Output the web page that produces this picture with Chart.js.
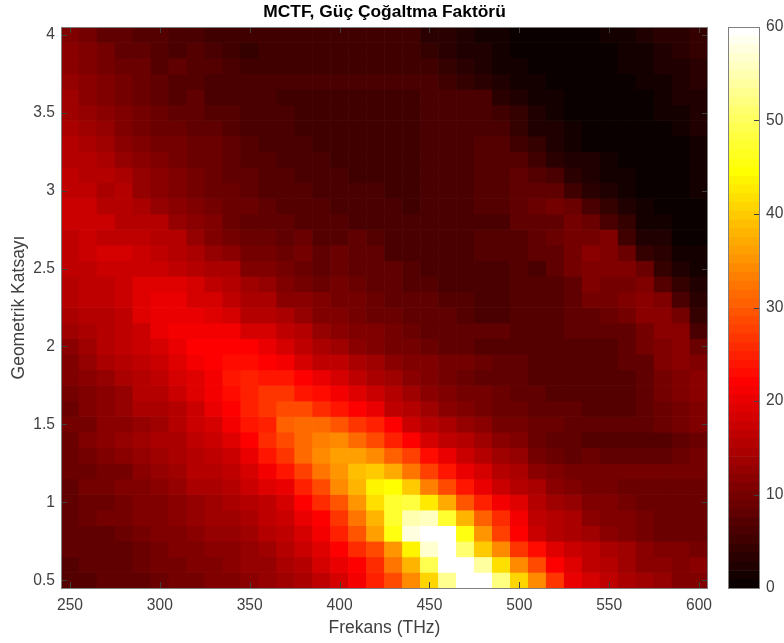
<!DOCTYPE html>
<html>
<head>
<meta charset="utf-8">
<script src="https://cdn.jsdelivr.net/npm/chart.js@4"></script>
<style>
html, body { margin: 0; padding: 0; background: #fff; overflow: hidden; }
canvas { position: absolute; top: 0; }
#heat { left: 0; }
#bar { left: 720px; }
</style>
</head>
<body>
<canvas id="heat" width="784" height="643"></canvas>
<canvas id="bar" width="64" height="643"></canvas>
<script>
let freqs = [250,260,270,280,290,300,310,320,330,340,350,360,370,380,390,400,410,420,430,440,450,460,470,480,490,500,510,520,530,540,550,560,570,580,590,600];
let geoms = [4,3.9,3.8,3.7,3.6,3.5,3.4,3.3,3.2,3.1,3,2.9,2.8,2.7,2.6,2.5,2.4,2.3,2.2,2.1,2,1.9,1.8,1.7,1.6,1.5,1.4,1.3,1.2,1.1,1,0.9,0.8,0.7,0.6,0.5];
let xTicks = [250,300,350,400,450,500,550,600];
let yTicks = [0.5,1,1.5,2,2.5,3,3.5,4];
let barTicks = [0,10,20,30,40,50,60];

// one array per geometric coefficient, top of the picture first
let g40 = [10.6,9.7,8.3,8.3,7,7,6.1,6.1,5.3,5.3,4.8, 5.6,5.6,5.6,5.6,5.6,5.6,5.6,5.6,4.9, 3.2,3.2,2.5,1.4,1,0.5, 0.9,0.9,0.9,0.9,1.5,1.5,2.4,3.2,2.9,4];
let g39 = [11.4,10.6,9.7,8.3,7.5,7.3,6.4,6.6,6.1,4.8,4.6, 5.6,5.6,5.6,5.6,5.6,5.6,5.6,5.6,5.6, 4.6,3.2,2.8,2.3,1.3,0.6, 0.5,0.5,0.5,0.5,0.6,1.5,1.5,2.4,2.9,4];
let g38 = [11.7,10.8,9.7,9,8.5,7,7.6,6.6,6.8,5.9,4.8, 5.6,5.6,5.6,5.6,5.6,5.6,5.6,5.6,5.6, 5.6,3.8,3.2,2.3,1.3,1.5, 0.6,0.6,0.5,0.5,0.5,1.5,1.5,2,2.4,3.2];
let g37 = [12.3,11.4,10.6,9.4,8.8,7.9,7.3,7,6.4,6.1,5.9, 5.7,5.7,5.7,5.7,5.7,5.7,5.7,5.7,5.7, 5.8,5.6,4.6,3,2.3,1.5, 1.3,0.6,0.3,0.3,0.3,0.5,1.5,1.5,2.4,3.2];
let g36 = [13.2,11.9,11,10.1,9.2,8.3,7.3,7.5,6.4,6.1,5.9, 6,5.6,5.6,5.6,5.6,5.6,5.6,5.6,5.6, 6,6,5.9,5.9,3.7,2.4, 1.3,1.3,0.5,0.5,0.3,0.3,0.5,1.5,2.4,2.4];
let g35 = [13.6,12.3,11.4,10.6,9.9,8.8,8.3,8.2,7,6.6,6.4, 6,5.9,5.3,5.3,5.3,5.3,5.3,5.3,5.3, 6,6,6,6,5.2,3.8, 2.4,1.3,0.5,0.3,0.3,0.3,0.3,1.3,1.3,2.2];
let g34 = [14.5,13.2,12.3,11,10.1,9.2,8.8,8.3,7.9,7,6.1, 6.2,6,5.5,5.5,5.5,5.5,5.5,5.5,5.5, 6,6,6,6,6,4.2, 2.4,2.2,1.5,0.5,0.3,0.3,0.3,0.3,1.3,2.2];
let g33 = [15.4,14.5,13.2,11.4,11,10.1,9.7,8.8,8.8,7.9,7, 6,6,6,5.3,5.3,5.3,5.3,5.3,5.3, 6,6,6,6.8,6.8,5.6, 4,2.4,1.7,0.9,0.3,0.3,0.3,0.3,0.5,1.3];
let g32 = [15.4,15,14.5,12.8,11.4,10.6,9.9,9.2,8.8,8.3,7.3, 6.8,6.2,6.2,6,5.3,5.3,5.3,5.3,5.3, 6.2,6.2,6.2,7,7,7, 4.8,3.2,2.4,2.2,1.1,0.3,0.3,0.3,0.3,1.3];
let g31 = [16.3,15.8,15,14.5,12.3,11.4,10.6,9.7,9.2,8.3,7.9, 6.8,6.8,6.2,6.2,6,5.3,5.3,5.3,5.3, 6,6,6,6.6,7,8.2, 7,5.7,3,2.4,1.1,1.1,0.3,0.3,0.3,1.3];
let g30 = [16.7,16.3,14.5,15,12.8,11.9,11,9.7,9.2,8.8,8.3, 7,7,6.8,6.2,6.2,6,6,5.3,5.3, 6,6,6,6.6,6.8,7.5, 8.3,7.9,4.8,3,2.2,1.1,0.3,0.3,0.3,1.1];
let g29 = [17.6,17.2,15.8,15,14.1,12.8,11.9,11,10.1,8.8,8.8, 8.3,7,7,7,6.2,6.2,6,6,5.3, 6,6,6,6.6,6.6,7.5, 8.8,10.1,9.2,6.1,4.4,2.2,1.3,0.3,0.3,0.3];
let g28 = [17.6,17.2,17.2,15.8,15.8,15,12.8,11.9,10.6,9.2,8.3, 8.3,7.5,6.6,7,7,6.1,6,6,6, 6,6.1,6.1,6.1,6.1,7.5, 8.3,8.3,9.7,9.2,6.1,3.8,1.7,1.1,0.3,0.3];
let g27 = [16.7,17.2,16.7,16.3,16.3,15.4,15,12.3,11,10.1,8.8, 9.2,8.3,8.8,7,7,7.5,6.6,5.9,5.9, 5.9,6.1,6.1,6.6,6.6,7.3, 7.5,9.2,10.1,10.1,10.6,4.8,2.6,2,0.9,0.5];
let g26 = [16.7,17.2,18,18,17.6,16.3,15.4,14.5,12.8,11.4,9.7, 10.1,8.8,9.7,8.3,8.8,7.5,7.5,5.9,5.9, 5.9,6.1,6.1,6.6,6.6,7, 7.9,7.9,9.7,11.4,11,9.2,4.4,2.9,1.1,1.1];
let g25 = [16.3,16.7,17.6,17.6,17.2,17.6,16.3,15.8,14.5,14.1,11, 11,9.7,8.8,8.3,8.8,7.9,7.5,7.5,6.6, 6.1,6.1,6.4,6.4,6.4,6.6, 6.4,7.5,9.7,11,10.6,10.6,8.8,4,2.6,1.5];
let g24 = [15.4,16.3,16.7,17.6,19.4,19.4,19.4,18,16.3,15,13.2, 12.8,10.6,9.7,9.2,9.7,8.8,8.3,7.5,7, 7,6.4,6.4,6.4,6.4,6.6, 6.6,7.3,7.5,10.6,10.1,10.1,11,6.6,4.4,2.6];
let g23 = [15,16.3,16.7,17.6,18.9,20.3,19.8,18.5,18,16.3,14.1, 14.5,11.9,11.9,10.6,9.7,9.7,9.2,8.3,7.9, 7.5,7.1,6.6,6.4,6.4,6.6, 6.6,7,7.5,9.7,10.1,10.6,11.4,10.6,5.7,3.5];
let g22 = [14.5,15.8,15.8,16.7,18.9,19.8,19.8,19.8,19.4,18.5,15.8, 15.8,14.1,12.3,11,10.6,9.7,9.2,8.8,8.3, 7.5,7.5,7.1,6.4,6.4,6.6, 6.6,6.6,7.5,7.6,8.8,9.7,11.9,11.9,10.1,4.4];
let g21 = [13.2,14.5,15,16.7,17.6,19.8,20.7,20.7,20.7,20.7,18.5, 18.5,16.3,15,12.3,11.9,11,10.6,9.7,8.8, 7.9,7.9,7.5,7.5,7.5,6.6, 6.6,6.6,7.5,7.6,8.3,8.3,9.7,11.4,11.4,6.1];
let g20 = [11.4,13.2,15.4,16.3,17.2,18.5,19.8,22,22,22,22, 20.3,18.5,16.7,14.5,13.6,11.4,11,10.1,9.7, 8.8,8.3,7.9,7,7,7, 7,7,7,7.3,7.3,8.3,9.7,10.6,11.9,8.8];
let g19 = [11,12.8,14.1,15.4,16.7,17.6,18.9,20.7,22,23,23, 22,21.1,18.5,16.8,16,14.6,14,11.7,11, 10.6,10.1,9.7,9.2,8.3,7.5, 7,7,7,7.3,7.3,8.3,8.3,10.6,11.9,11];
let g18 = [10.6,11.9,12.8,14.5,15.8,16.3,18.5,19.4,21.1,24,25, 23.5,23.5,22,19.8,18.5,16.7,14.5,13.2,11.9, 11,10.1,9.2,8.3,8.3,8.3, 7,7,7,6.6,6.6,6.6,8.3,9.7,10.6,11.9];
let g17 = [10.1,11,11.4,12.8,15,15.8,17.2,18.9,21.1,23,25, 27,27,24,22.5,21.1,19.4,17.6,15.4,13.2, 11.9,10.6,9.7,9.7,9.2,8.3, 7.5,6.6,6.6,6.6,6.6,6.6,8.3,9.7,10.6,11.4];
let g16 = [9.2,10.6,11.9,12.8,14.1,14.5,15.8,17.6,19.8,21.6,25, 26.5,29,29,26,24,22,20.3,16.7,15.4, 14,11.9,11,10.1,8.8,9.2, 8.3,8.3,8.3,6.8,6.8,6.8,8.3,8.8,9.7,10.6];
let g15 = [10.1,10.1,11.4,11.9,12.8,13.6,15,17.2,18.5,20.7,24, 25,30,31,31,29.5,27,24.5,21.6,17.2, 15.4,14.1,12.8,11.4,9.7,10.1, 9.2,8.8,8.3,8.3,8.3,8.3,8.3,8.8,9.7,10.6];
let g14 = [9.2,10.6,11.9,12.3,13.2,14.1,14.5,16.3,17.2,19.4,21.6, 25.7,28.5,31.3,33.2,34,31,28.7,25,22, 18.5,16.7,15.4,13.2,11.7,10.8, 8.8,8.3,7.9,7,7,7,7,7,8.3,8.8];
let g13 = [9.2,9.7,10.6,11.4,12.3,13.2,14.1,15.4,16.3,17.6,19.8, 24.3,27.1,31.3,34,36,36,34.3,30.5,27.6, 23.4,20.5,17.5,15,13.6,12.2, 9.7,9.2,8.3,8.8,7.9,7.9,7.9,7.9,9.2,9.7];
let g12 = [9.2,9.2,10.1,10.1,11.4,12.8,13.2,15,15.4,16.7,18.5, 21.4,24.3,27.6,31.9,35.4,38.8,40,36.6,32.6, 27.6,24.1,20,17.9,15,14.1, 11.4,10.6,10.1,9.7,9.7,9.7,9.7,9.7,9.7,9.7];
let g11 = [8.3,9.7,10.1,10.6,11,11.9,12.8,14.1,14.5,15.8,17.6, 19,20.5,24.8,28.4,34,38.2,43.2,44.5,40, 33.3,29,24.1,20.5,17.5,15.8, 14.1,11.4,10.6,10.1,9.7,9,9,9,9,9];
let g10 = [8.3,9.2,9.2,10.1,10.6,11,11.9,12.8,13.6,14.5,15.6, 16.5,18.2,22,26.2,29.8,34.7,41.8,47.3,48.3, 42.5,36.8,29.8,24.8,20.7,19, 15.4,13.6,12.8,10.6,10.6,9.7,9,9,9,9];
let g09 = [7.9,8.8,9.7,9.7,10.6,10.6,11.4,12.3,13.2,13.8,14.9, 16,17.2,20,21.6,26.9,31.9,38.2,47.3,54.8, 55.8,47.8,37.5,30.5,25.5,20.7, 16.7,15,14.1,11.9,10.6,10.6,9.7,8.8,8.8,8.8];
let g08 = [7.5,7.9,7.9,9.2,9.7,10.6,10.6,11.4,12.3,12.9,13.9, 15,16.5,18.6,20.7,24.8,29.8,36.1,45.4,58.1, 60,60,45.4,34.7,27.6,22, 17.6,15.8,14.5,13.2,11.9,10.6,9.7,9.2,9.2,9.2];
let g07 = [7.5,7.9,8.3,8.3,9.2,9.7,10.6,11,11.5,12,12.8, 13.6,15,17.2,19,22,25.5,29,35.4,43.2, 56.7,60,51.1,39.6,34,27, 23,18.9,17.2,16,14.5,13.2,11.9,11,10.6,10.1];
let g06 = [6.6,7.9,8.3,8.3,9.2,9.7,10.1,10.6,11,11.5,12.2, 12.9,14.3,15.8,17.9,20,22,26.2,31.9,37.5, 49.2,60,60,53.9,41.8,34, 28.5,22,19.3,16.5,15,13.6,11.5,11.5,10.8,11.5];
let g05 = [7,7,7.9,8.3,8.3,9.2,9.7,10.1,10.6,11,11.6, 12.2,13.6,14.3,16.5,17.9,20.7,24.8,28.4,34, 41,53,60,60,52,41, 34,27,20.5,17.9,16,14.3,13.6,12.2,10.8,10.8];

let rows = [g40,g39,g38,g37,g36,g35,g34,g33,g32,g31,g30,g29,g28,g27,g26,g25,g24,g23,g22,g21,g20,g19,g18,g17,g16,g15,g14,g13,g12,g11,g10,g09,g08,g07,g06,g05];

// matlab hot(64)
let hot = (v) => {
    let i = Math.min(63, Math.max(0, Math.floor(v / 60 * 64)));
    let r = i < 24 ? (i + 1) / 24 : 1;
    let g = i < 24 ? 0 : i < 48 ? (i - 23) / 24 : 1;
    let b = i < 48 ? 0 : (i - 47) / 16;
    return `rgb(${Math.round(r * 255)},${Math.round(g * 255)},${Math.round(b * 255)})`;
};

let tickFont = { family: '"Liberation Sans"', size: 15.6 };
let tickColor = "#404040";

// matlab style box with ticks pointing inwards
let boxTicks = {
    id: "boxTicks",
    afterDatasetsDraw(chart, args, opts) {
        let c = chart.ctx, a = chart.chartArea;
        let y = chart.scales.y;
        c.save();
        c.strokeStyle = "#404040";
        c.lineWidth = 1;
        c.beginPath();
        (opts.yTicks || []).forEach(t => {
            let py = Math.round(y.getPixelForValue(t)) + 0.5;
            c.moveTo(a.right - 6, py); c.lineTo(a.right, py);
            if (opts.both) { c.moveTo(a.left, py); c.lineTo(a.left + 6, py); }
        });
        if (opts.xTicks) {
            let x = chart.scales.x;
            opts.xTicks.forEach(t => {
                let px = Math.round(x.getPixelForValue(x.getLabels().indexOf(t))) + 0.5;
                c.moveTo(px, a.bottom); c.lineTo(px, a.bottom - 6);
                c.moveTo(px, a.top); c.lineTo(px, a.top + 6);
            });
        }
        c.stroke();
        c.strokeStyle = "#808080";
        c.strokeRect(a.left + 0.5, a.top + 0.5, a.right - a.left - 1, a.bottom - a.top);
        c.restore();
    }
};

new Chart(document.getElementById("heat"), {
    type: "bar",
    plugins: [boxTicks],
    data: {
        labels: freqs,
        datasets: rows.map((row, k) => ({
            data: row.map(() => [geoms[k] - 0.05, geoms[k] + 0.05]),
            backgroundColor: row.map(hot),
            borderWidth: 0,
            barPercentage: 1,
            categoryPercentage: 1,
            grouped: false
        }))
    },
    options: {
        responsive: false,
        animation: false,
        events: [],
        layout: { padding: { right: 76 } },
        plugins: {
            legend: { display: false },
            tooltip: { enabled: false },
            title: {
                display: true,
                text: "MCTF, Güç Çoğaltma Faktörü",
                color: "#000",
                fullSize: false,
                font: { family: '"Liberation Sans"', size: 17.4, weight: "bold" },
                padding: { top: 1.5, bottom: 4.6 }
            },
            boxTicks: { yTicks: yTicks, xTicks: xTicks, both: true }
        },
        scales: {
            x: {
                grid: { display: false },
                border: { display: false },
                afterFit: s => { s.height = 55; },
                ticks: {
                    autoSkip: false,
                    maxRotation: 0,
                    color: tickColor,
                    font: tickFont,
                    padding: 0,
                    callback: function (v) {
                        let f = this.getLabelForValue(v);
                        return xTicks.includes(f) ? String(f) : "";
                    }
                },
                title: {
                    display: true,
                    text: "Frekans (THz)",
                    color: tickColor,
                    font: { family: '"Liberation Sans"', size: 17.5 },
                    padding: { top: 0, bottom: 4.5 }
                }
            },
            y: {
                min: 0.45,
                max: 4.05,
                grid: { display: false, drawTicks: false },
                border: { display: false },
                afterFit: s => { s.width = 61; },
                afterBuildTicks: s => { s.ticks = yTicks.map(v => ({ value: v })); },
                ticks: {
                    color: tickColor,
                    font: tickFont,
                    padding: 6,
                    callback: v => String(v)
                },
                title: {
                    display: true,
                    text: "Geometrik Katsayı",
                    color: tickColor,
                    font: { family: '"Liberation Sans"', size: 17.5 },
                    padding: { top: 9, bottom: 0 }
                }
            }
        }
    }
});

// colour bar, 64 levels stacked over the same 0-60 range
let levels = [];
for (let i = 0; i < 64; i++) levels.push(i);

new Chart(document.getElementById("bar"), {
    type: "bar",
    plugins: [boxTicks],
    data: {
        labels: ["c"],
        datasets: levels.map(i => ({
            data: [[i * 60 / 64, (i + 1) * 60 / 64]],
            backgroundColor: hot((i + 0.5) * 60 / 64),
            borderWidth: 0,
            barPercentage: 1,
            categoryPercentage: 1,
            grouped: false
        }))
    },
    options: {
        responsive: false,
        animation: false,
        events: [],
        layout: { padding: { top: 27, bottom: 55, left: 8, right: 0 } },
        plugins: {
            legend: { display: false },
            tooltip: { enabled: false },
            boxTicks: { yTicks: barTicks }
        },
        scales: {
            x: { display: false },
            y: {
                position: "right",
                min: 0,
                max: 60,
                grid: { display: false, drawTicks: false },
                border: { display: false },
                afterFit: s => { s.width = 24; },
                afterBuildTicks: s => { s.ticks = barTicks.map(v => ({ value: v })); },
                ticks: { color: tickColor, font: tickFont, padding: 6 }
            }
        }
    }
});
</script>
</body>
</html>
